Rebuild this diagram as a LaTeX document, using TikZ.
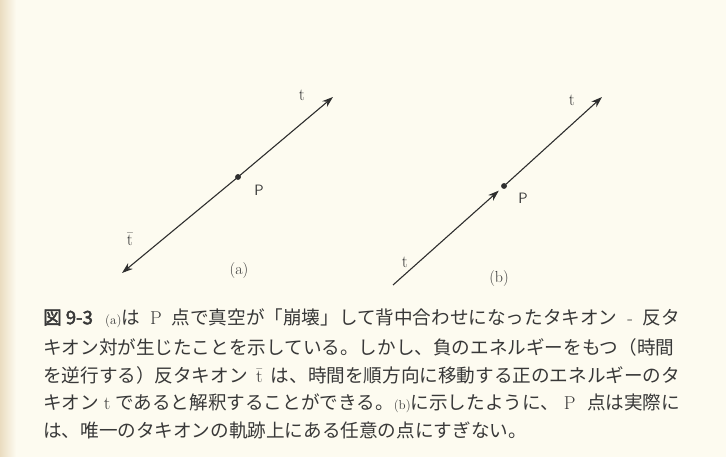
\documentclass[tikz,border=0pt]{standalone}
\usepackage{fontspec}
\newfontfamily\cjk{Noto Sans CJK JP}
\newfontfamily\cjkb[FakeBold=2.5]{Noto Sans CJK JP}
\usetikzlibrary{arrows.meta}
\definecolor{paper}{HTML}{FDFBF0}
\definecolor{edge}{HTML}{EADCC0}
\definecolor{ink}{HTML}{2E2E2E}
\definecolor{txt}{HTML}{383838}
\newcommand\gs{\hskip 3pt plus 30pt\relax}
\newcommand\smallrm[1]{{\rmfamily\fontsize{13}{13}\selectfont #1}}
\newcommand\capfont{\cjk\fontsize{18.6}{18.6}\selectfont}
\begin{document}
\begin{tikzpicture}[x=1pt,y=-1pt,
  wl/.style={draw=ink,line width=1.1pt,-{Stealth[length=11pt,width=7.5pt]}},
  dotnode/.style={circle,fill=ink,inner sep=0pt,minimum size=5.5pt},
  lbl/.style={text=txt,inner sep=0pt,font=\fontsize{17}{17}\selectfont},
  plbl/.style={text=txt,inner sep=0pt,font=\sffamily\fontsize{15}{15}\selectfont},
  capline/.style={anchor=west,text=txt,inner sep=0pt,font=\capfont}]
\fill[paper] (0,0) rectangle (726,457);
\shade[left color=edge,right color=paper] (0,0) rectangle (16,457);
\useasboundingbox (0,0) rectangle (726,457);
% (a)
\coordinate (a0) at (122,273);
\coordinate (a1) at (333,97);
\node[dotnode] (pa) at (238,177) {};
\draw[wl] (pa.center) -- (a1);
\draw[wl] (pa.center) -- (a0);
\node[dotnode] at (238,177) {};
\node[plbl] (Pa) at (259,190) {P};
\node[lbl] (ta) at (302,95) {t};
\node[lbl] (tba) at (130,239) {$\bar{\mathrm{t}}$};
\node[lbl,font=\fontsize{16}{16}\selectfont] (capa) at (239,271) {(a)};
% (b)
\coordinate (b0) at (393,285);
\coordinate (b1) at (602,97);
\node[dotnode] (pb) at (504,186) {};
\draw[wl,shorten >=4pt] (b0) -- (pb);
\draw[wl] (pb.center) -- (b1);
\node[dotnode] at (504,186) {};
\node[plbl] (Pb) at (523,198) {P};
\node[lbl] (tb1) at (572,100) {t};
\node[lbl] (tb0) at (405,262) {t};
\node[lbl,font=\fontsize{16}{16}\selectfont] (capb) at (499,279) {(b)};
% caption
\node[capline] (c1) at (43,318) {\hbox to 637pt{{\cjkb 図\hskip4pt 9-3}\hskip 10pt plus 10pt\smallrm{(a)}は\gs{\rmfamily P}\gs 点で真空が「崩壊」して背中合わせになったタキオン\gs{\rmfamily -}\gs 反タ}};
\node[capline] (c2) at (43,347) {\hbox to 637pt{キオン対が生じたことを示している。しかし、負のエネルギーをもつ（時間\hskip 0pt plus 30pt}};
\node[capline] (c3) at (43,375) {\hbox to 637pt{を逆行する）反タキオン\hskip 2pt plus 10pt{\rmfamily$\bar{\mathrm{t}}$}\hskip 2pt plus 10pt は、時間を順方向に移動する正のエネルギーのタ}};
\node[capline] (c4) at (43,403) {\hbox to 637pt{キオン\hskip 2pt plus 10pt{\rmfamily t}\hskip 2pt plus 10pt であると解釈することができる。\smallrm{(b)}に示したように、\hskip 2pt plus 10pt{\rmfamily P}\gs 点は実際に}};
\node[capline] (c5) at (43,430) {は、唯一のタキオンの軌跡上にある任意の点にすぎない。};
\end{tikzpicture}
\end{document}
